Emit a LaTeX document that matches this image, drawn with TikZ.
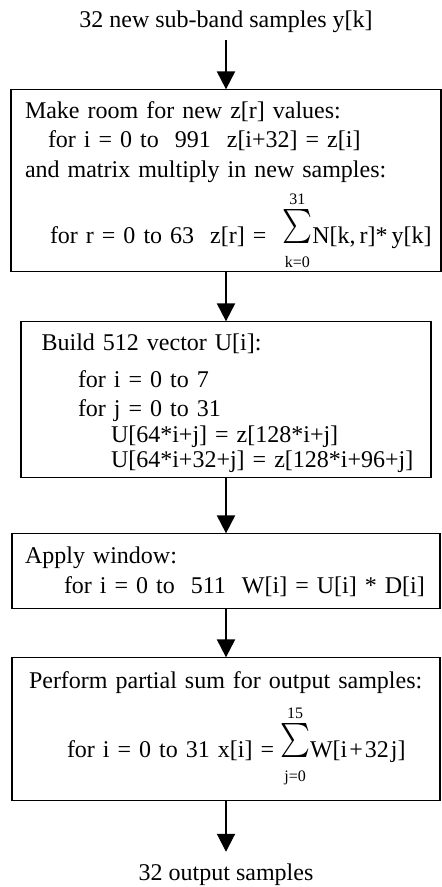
\documentclass[tikz,border=0pt]{standalone}
\usepackage{amsmath}
\usepackage{graphicx}
\usepackage{fontspec}
\setmainfont{Liberation Serif}
\usetikzlibrary{positioning,arrows.meta}
\newcommand\topgap[1]{\rule{0pt}{#1}}
\newcommand\botgap[1]{\rule[-#1]{0pt}{#1}}
\newcommand\bigsig[2]{$\mathop{\raisebox{\depth}{\resizebox*{15pt}{17pt}{$\sum$}}}\limits_{\text{\rule{0pt}{10pt}#1}}^{\text{#2}}$}
\tikzset{
  stage/.style={draw,line width=0.8pt,align=left,inner sep=0pt,outer sep=0pt,
    font=\fontsize{12}{14.5}\selectfont,
    execute at begin node={\lineskiplimit=-100pt\relax}},
  io/.style={inner sep=3.3pt,font=\fontsize{12}{14.5}\selectfont},
  arr/.style={-{Triangle[length=9pt,width=9pt]},line width=1pt},
}

\begin{document}
\begin{tikzpicture}
  \useasboundingbox (0,0) rectangle (221pt,-443.5pt);
  \node[io,anchor=base] (in) at (113pt,-14pt) {32 new sub-band samples y[k]};
  \node[stage,text width=215pt,minimum height=91pt,below=24.6pt of in] (mk) {%
    \topgap{14.5pt}\hspace*{7pt}Make room for new z[r] values:\\
    \hspace*{18.5pt}for i = 0 to\ \ 991\ \ z[i+32] = z[i]\\[0.5pt]
    \hspace*{7pt}and matrix multiply in new samples:\\[18.5pt]
    \hspace*{19.5pt}for r = 0 to 63\ \ z[r] =\hspace{8pt}\bigsig{k=0}{31}N[k,\,r]*\,y[k]\botgap{14pt}};
  \node[stage,text width=205pt,minimum height=78pt,below=25pt of mk] (bu) {%
    \topgap{14.5pt}\hspace*{10.3pt}Build 512 vector U[i]:\\[4pt]
    \hspace*{28.5pt}for i = 0 to 7\\
    \hspace*{28.5pt}for j = 0 to 31\\[-1.5pt]
    \hspace*{45pt}U[64*i+j] = z[128*i+j]\\[-2pt]
    \hspace*{45pt}U[64*i+32+j] = z[128*i+96+j]\botgap{5pt}};
  \node[stage,text width=214pt,minimum height=37.5pt,below=28pt of bu] (win) {%
    \topgap{15pt}\hspace*{6.5pt}Apply window:\\[0.5pt]
    \hspace*{26pt}for i = 0 to\ \ 511\ \ W[i] = U[i] * D[i]\botgap{7.5pt}};
  \node[stage,text width=214pt,minimum height=71.5pt,below=24.5pt of win] (ps) {%
    \topgap{15.5pt}\hspace*{8.5pt}Perform partial sum for output samples:\\[20pt]
    \hspace*{27.5pt}for i = 0 to 31 x[i] =\hspace{3pt}\bigsig{j=0}{15}W[i\kern1pt+\kern1pt32\kern1pt j]\botgap{21.5pt}};
  \node[io,inner ysep=6pt,below=25.7pt of ps] (out) {32 output samples};
  \draw[arr] (in) -- (mk);
  \draw[arr] (mk) -- (bu);
  \draw[arr] (bu) -- (win);
  \draw[arr] (win) -- (ps);
  \draw[arr] (ps) -- (out);
\end{tikzpicture}
\end{document}
